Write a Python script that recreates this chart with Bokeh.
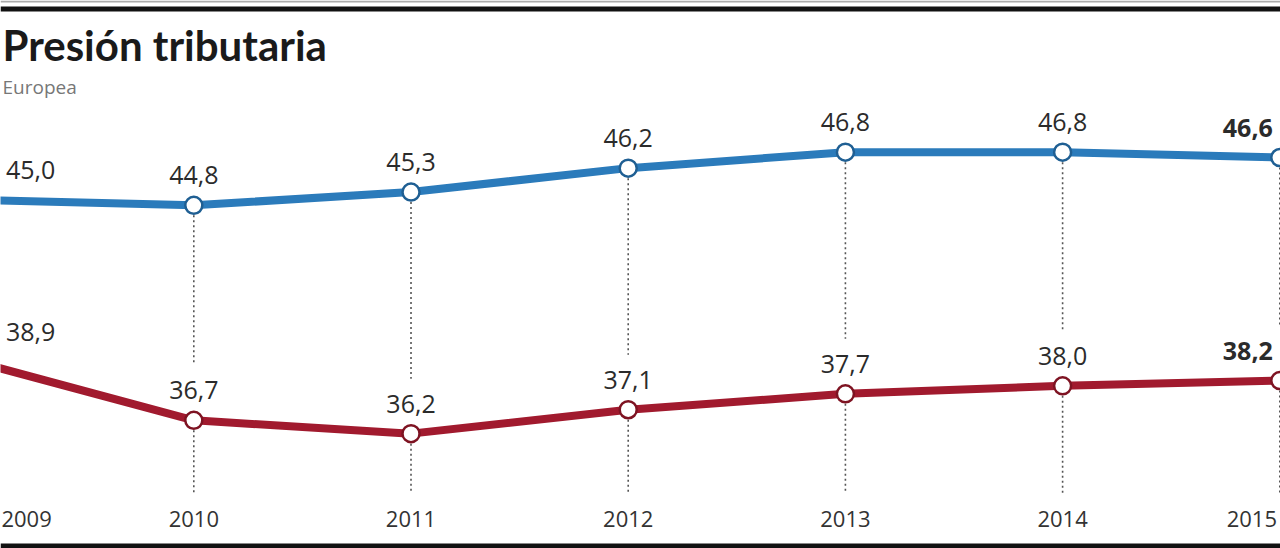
from bokeh.plotting import figure
from bokeh.models import ColumnDataSource, Range1d, Label, Span
from bokeh.core.properties import value
from bokeh.embed import file_html
from bokeh.resources import INLINE

# ---- data ----
years = [2009, 2010, 2011, 2012, 2013, 2014, 2015]
year_labels = ["2009", "2010", "2011", "2012", "2013", "2014", "2015"]
blue_values = [45.0, 44.8, 45.3, 46.2, 46.8, 46.8, 46.6]
red_values = [38.9, 36.7, 36.2, 37.1, 37.7, 38.0, 38.2]
title_text = "Presión tributaria"
subtitle_text = "Europea"

BLUE = "#2b7bbb"
RED = "#a11a2e"
TXT = "#2b2b2b"

W, H = 1280, 548
PX_PER_UNIT = 26.55
Y_TOP = 52.514
Y_BOT = Y_TOP - H / PX_PER_UNIT
X0 = 2009.11
X1 = X0 + W / 217.2

def fmt(v):
    return ("%.1f" % v).replace(".", ",")

p = figure(width=W, height=H, output_backend="svg", toolbar_location=None,
           x_range=Range1d(X0, X1), y_range=Range1d(Y_BOT, Y_TOP),
           min_border=0, min_border_left=0, min_border_right=0,
           min_border_top=0, min_border_bottom=0)
p.axis.visible = False
p.grid.visible = False
p.outline_line_color = None
p.background_fill_color = "white"
p.border_fill_color = "white"

n = len(years)
# keep edge texts inside the canvas: nudge first/last labels inward
val_dx = [54] + [0] * (n - 2) + [-32]
year_dx = [50] + [0] * (n - 2) + [-28]
src = ColumnDataSource(dict(
    x=years, blue=blue_values, red=red_values,
    blue_lab=[fmt(v) for v in blue_values],
    red_lab=[fmt(v) for v in red_values],
    year_lab=year_labels,
    blue_guide_end=[r + 55 / PX_PER_UNIT for r in red_values],
    red_guide_end=[Y_TOP - 493 / PX_PER_UNIT] * n,
    year_y=[Y_TOP - 518 / PX_PER_UNIT] * n,
    font_style=["normal"] * (n - 1) + ["bold"],
    val_dx=val_dx, year_dx=year_dx,
))

# dotted guides
p.segment(x0="x", y0="blue", x1="x", y1="blue_guide_end", source=src,
          line_color="#555555", line_width=1.6, line_dash="2 3")
p.segment(x0="x", y0="red", x1="x", y1="red_guide_end", source=src,
          line_color="#555555", line_width=1.6, line_dash="2 3")

# lines
p.line("x", "blue", source=src, line_color=BLUE, line_width=8, line_join="round")
p.line("x", "red", source=src, line_color=RED, line_width=8, line_join="round")

# markers
p.scatter("x", "blue", source=src, size=17, fill_color="white",
          line_color="#1f5f93", line_width=2.5)
p.scatter("x", "red", source=src, size=17, fill_color="white",
          line_color="#7e1322", line_width=2.5)

# value labels
for col, ycol in (("blue_lab", "blue"), ("red_lab", "red")):
    p.text("x", ycol, text=col, source=src, text_align="center",
           text_baseline="middle", y_offset=-30, x_offset="val_dx",
           text_color=TXT, text_font=value("Open Sans"),
           text_font_size="25px", text_font_style="font_style")

# year labels
p.text("x", "year_y", text="year_lab", source=src, text_align="center",
       text_baseline="middle", x_offset="year_dx", text_color="#333333",
       text_font=value("Open Sans"), text_font_size="22px")

# title / subtitle
p.add_layout(Label(x=2, y=H - 44, x_units="screen", y_units="screen",
                   text=title_text, text_align="left", text_baseline="alphabetic",
                   text_font="Lato", text_font_size="42px", text_font_style="bold",
                   text_color="#1a1a1a"))
p.add_layout(Label(x=2, y=H - 86, x_units="screen", y_units="screen",
                   text=subtitle_text, text_align="left", text_baseline="alphabetic",
                   text_font="Open Sans", text_font_size="19px",
                   text_color="#777777"))

# frame rules
p.add_layout(Span(location=Y_TOP - 1 / PX_PER_UNIT, dimension="width",
                  line_color="#aaaaaa", line_width=2))
p.add_layout(Span(location=Y_TOP - 8.5 / PX_PER_UNIT, dimension="width",
                  line_color="#111111", line_width=5))
p.add_layout(Span(location=Y_TOP - 545.5 / PX_PER_UNIT, dimension="width",
                  line_color="#111111", line_width=5))

open("out.html", "w").write(file_html(p, INLINE))
